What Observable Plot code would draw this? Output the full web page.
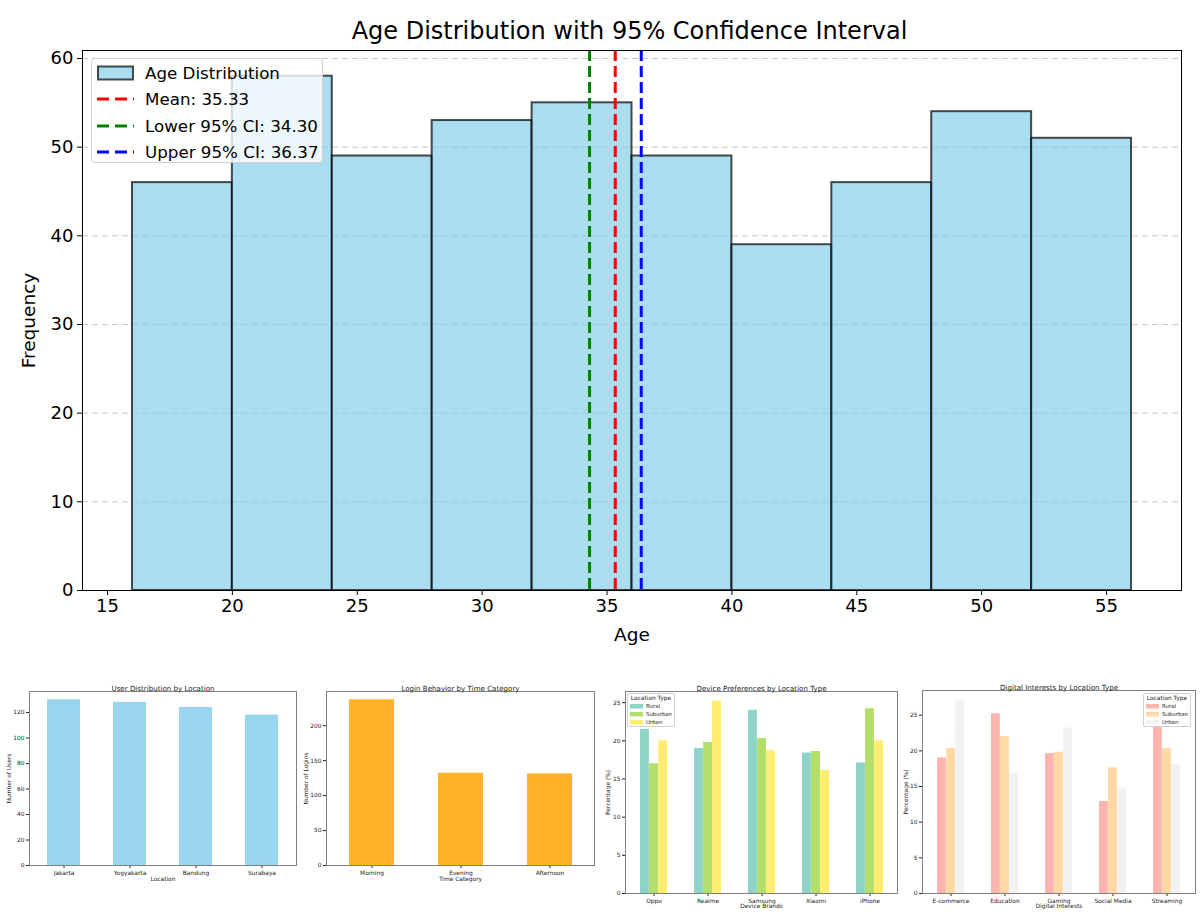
<!DOCTYPE html>
<html>
<head>
<meta charset="utf-8">
<script src="https://cdn.jsdelivr.net/npm/d3@7"></script>
<script src="https://cdn.jsdelivr.net/npm/@observablehq/plot@0.6"></script>
<style>
  body { margin: 0; background: white; font-family: "DejaVu Sans", sans-serif; }
  #root { position: relative; width: 1200px; height: 916px; overflow: hidden; }
  .legend { position: absolute; background: rgba(255,255,255,0.8); border: 1px solid #d0d0d0; border-radius: 4px; box-sizing: border-box; color: #000; }
  .lrow { position: absolute; left: 0; display: flex; align-items: center; white-space: nowrap; }
</style>
</head>
<body>
<div id="root"></div>
<script>
// ---------- DATA ----------
// Main histogram
const binStarts = [16, 20, 24, 28, 32, 36, 40, 44, 48, 52];
const binEnds   = [20, 24, 28, 32, 36, 40, 44, 48, 52, 56];
const ageFreq   = [46, 58, 49, 53, 55, 49, 39, 46, 54, 51];
const ciLabels  = ["Mean: 35.33", "Lower 95% CI: 34.30", "Upper 95% CI: 36.37"];
const ciValues  = [35.33, 34.30, 36.37];
const ciColors  = ["red", "green", "blue"];
const ageTicks  = [15, 20, 25, 30, 35, 40, 45, 50, 55];
const freqTicks = [0, 10, 20, 30, 40, 50, 60];

// Panel 1
const locations  = ["Jakarta", "Yogyakarta", "Bandung", "Surabaya"];
const userCounts = [130, 128, 124, 118];
const userTicks  = [0, 20, 40, 60, 80, 100, 120];

// Panel 2
const timeCats    = ["Morning", "Evening", "Afternoon"];
const loginCounts = [237, 132, 131];
const loginTicks  = [0, 50, 100, 150, 200];

// Panel 3
const brands = ["Oppo", "Realme", "Samsung", "Xiaomi", "iPhone"];
const locTypes = ["Rural", "Suburban", "Urban"];
const deviceRural    = [21.5, 19.0, 24.0, 18.4, 17.1];
const deviceSuburban = [17.0, 19.8, 20.3, 18.6, 24.2];
const deviceUrban    = [20.0, 25.2, 18.7, 16.1, 20.0];
const deviceColors   = ["#8dd3c7", "#b3de69", "#ffed6f"];

// Panel 4
const interests = ["E-commerce", "Education", "Gaming", "Social Media", "Streaming"];
const interestRural    = [19.0, 25.2, 19.6, 12.9, 23.3];
const interestSuburban = [20.3, 22.0, 19.8, 17.6, 20.3];
const interestUrban    = [27.1, 16.8, 23.2, 14.8, 18.1];
const interestColors   = ["#fbb4ae", "#fed9a6", "#f2f2f2"];
const pctTicks = [0, 5, 10, 15, 20, 25];

// ---------- HELPERS ----------
const root = document.getElementById("root");
function place(el, left, top) {
  el.style.position = "absolute";
  el.style.left = left + "px";
  el.style.top = top + "px";
  root.appendChild(el);
  return el;
}
const FONT = "DejaVu Sans, sans-serif";

// ---------- MAIN CHART ----------
const bins = binStarts.map((s, i) => ({x1: s, x2: binEnds[i], y: ageFreq[i]}));
const ci = ciValues.map((v, i) => ({v, color: ciColors[i], label: ciLabels[i]}));

const mainChart = Plot.plot({
  width: 1200, height: 610,
  marginLeft: 82, marginRight: 19, marginTop: 10, marginBottom: 60,
  style: {fontFamily: FONT, fontSize: "18px", color: "black", background: "transparent"},
  x: {domain: [14, 58], ticks: ageTicks, tickSize: 5, tickPadding: 4, label: null},
  y: {domain: [0, 60.9], ticks: freqTicks, tickSize: 5, tickPadding: 4, label: null},
  marks: [
    Plot.ruleY(freqTicks, {stroke: "#b0b0b0", strokeOpacity: 0.7, strokeDasharray: "6,4", strokeWidth: 1}),
    Plot.rectY(bins, {x1: "x1", x2: "x2", y: "y", fill: "#87CEEB", fillOpacity: 0.7, stroke: "black", strokeOpacity: 0.7, strokeWidth: 2}),
    Plot.ruleX(ci, {x: "v", stroke: "color", strokeWidth: 3, strokeDasharray: "11,5"}),
    Plot.frame({stroke: "black", strokeWidth: 1}),
    Plot.text(["Age"], {text: d => d, frameAnchor: "bottom", dy: 37, lineAnchor: "top", fontSize: 18.5}),
    Plot.text(["Frequency"], {text: d => d, frameAnchor: "left", textAnchor: "middle", dx: -53, rotate: -90, fontSize: 18.5})
  ]
});
place(mainChart, 0, 40);

const title = document.createElement("div");
title.textContent = "Age Distribution with 95% Confidence Interval";
title.style.cssText = "width:1099px;text-align:center;font-size:24px;line-height:28px;white-space:nowrap;font-family:" + FONT;
place(title, 80, 17);

// main legend
const leg = document.createElement("div");
leg.className = "legend";
leg.style.width = "232px"; leg.style.height = "105px";
const rowsMain = [{type: "patch", label: "Age Distribution"}].concat(ci.map(d => ({type: "line", color: d.color, label: d.label})));
rowsMain.forEach((r, i) => {
  const row = document.createElement("div");
  row.className = "lrow";
  row.style.top = (14 + i * 26.3 - 11) + "px";
  row.style.height = "22px";
  row.style.left = "5px";
  const sw = r.type === "patch"
    ? `<svg width="37" height="22"><rect x="1" y="4.5" width="35" height="13" fill="#87CEEB" fill-opacity="0.7" stroke="black" stroke-opacity="0.7" stroke-width="2"/></svg>`
    : `<svg width="37" height="22"><line x1="0" x2="37" y1="11" y2="11" stroke="${r.color}" stroke-width="3" stroke-dasharray="12,6"/></svg>`;
  row.innerHTML = sw + `<span style="margin-left:11px;font-size:16.7px;font-family:${FONT}">${r.label}</span>`;
  leg.appendChild(row);
});
place(leg, 91, 58);

// ---------- SMALL PANELS ----------
const SMALL = {fontFamily: FONT, fontSize: "5.9px", color: "#222", background: "transparent"};

function smallFrame(titleText, xLabel, yLabel, yLabelDx, xLabelDy) {
  return [
    Plot.frame({stroke: "#808080", strokeWidth: 1}),
    Plot.text([titleText], {text: d => d, frameAnchor: "top", dy: -6, fontSize: 7.1, fill: "#222"}),
    Plot.text([xLabel], {text: d => d, frameAnchor: "bottom", dy: xLabelDy, fontSize: 5.9, fill: "#222"}),
    Plot.text([yLabel], {text: d => d, frameAnchor: "left", textAnchor: "middle", dx: yLabelDx, rotate: -90, fontSize: 5.9, fill: "#222"})
  ];
}

// Panel 1
const p1 = Plot.plot({
  width: 300, height: 241, marginLeft: 29, marginRight: 4, marginTop: 16, marginBottom: 51,
  style: SMALL,
  x: {domain: locations, paddingInner: 0.5, paddingOuter: 0.25, align: 0.5, tickSize: 3, tickPadding: 2, label: null},
  y: {domain: [0, 136.5], ticks: userTicks, tickSize: 3, tickPadding: 2, label: null},
  marks: [
    Plot.barY(locations.map((l, i) => ({l, v: userCounts[i]})), {x: "l", y: "v", fill: "#87CEEB", fillOpacity: 0.85}),
    ...smallFrame("User Distribution by Location", "Location", "Number of Users", -20, 15)
  ]
});
place(p1, 0, 675);

// Panel 2
const p2 = Plot.plot({
  width: 300, height: 241, marginLeft: 26, marginRight: 6, marginTop: 16, marginBottom: 51,
  style: SMALL,
  x: {domain: timeCats, paddingInner: 0.5, paddingOuter: 0.25, align: 0.5, tickSize: 3, tickPadding: 2, label: null},
  y: {domain: [0, 248.85], ticks: loginTicks, tickSize: 3, tickPadding: 2, label: null},
  marks: [
    Plot.barY(timeCats.map((l, i) => ({l, v: loginCounts[i]})), {x: "l", y: "v", fill: "#FFA500", fillOpacity: 0.85}),
    ...smallFrame("Login Behavior by Time Category", "Time Category", "Number of Logins", -20, 15)
  ]
});
place(p2, 300, 675);

// grouped bars helper
function groupedBars(cats, series, colors, plotWidth) {
  const band = plotWidth / cats.length * 0.5;
  const w = band / series.length;
  return series.map((vals, k) =>
    Plot.barY(cats.map((c, i) => ({c, v: vals[i]})), {
      x: "c", y: "v", fill: colors[k],
      insetLeft: k * w, insetRight: (series.length - 1 - k) * w
    })
  );
}

// Panel 3
const p3 = Plot.plot({
  width: 300, height: 241, marginLeft: 25, marginRight: 3, marginTop: 16, marginBottom: 23,
  style: SMALL,
  x: {domain: brands, paddingInner: 0.5, paddingOuter: 0.25, align: 0.5, tickSize: 3, tickPadding: 2, label: null},
  y: {domain: [0, 26.46], ticks: pctTicks, tickSize: 3, tickPadding: 2, label: null},
  marks: [
    ...groupedBars(brands, [deviceRural, deviceSuburban, deviceUrban], deviceColors, 272),
    ...smallFrame("Device Preferences by Location Type", "Device Brands", "Percentage (%)", -17, 14)
  ]
});
place(p3, 600, 675);

// Panel 4
const p4 = Plot.plot({
  width: 300, height: 241, marginLeft: 22, marginRight: 5, marginTop: 15, marginBottom: 23,
  style: SMALL,
  x: {domain: interests, paddingInner: 0.5, paddingOuter: 0.25, align: 0.5, tickSize: 3, tickPadding: 2, label: null},
  y: {domain: [0, 28.46], ticks: pctTicks, tickSize: 3, tickPadding: 2, label: null},
  marks: [
    ...groupedBars(interests, [interestRural, interestSuburban, interestUrban], interestColors, 273),
    ...smallFrame("Digital Interests by Location Type", "Digital Interests", "Percentage (%)", -16, 14)
  ]
});
place(p4, 900, 675);

// small legends
function smallLegend(left, top, colors) {
  const el = document.createElement("div");
  el.className = "legend";
  el.style.width = "48px"; el.style.height = "34px"; el.style.borderRadius = "2px";
  const t = document.createElement("div");
  t.textContent = "Location Type";
  t.style.cssText = `position:absolute;left:0;width:100%;text-align:center;top:1px;font-size:5.9px;line-height:7px;font-family:${FONT};color:#222`;
  el.appendChild(t);
  locTypes.forEach((lt, i) => {
    const row = document.createElement("div");
    row.className = "lrow";
    row.style.left = "2px";
    row.style.top = (9 + i * 8.2) + "px";
    row.style.height = "6px";
    row.innerHTML = `<svg width="13" height="6"><rect x="0" y="1" width="13" height="4.5" fill="${colors[i]}"/></svg><span style="margin-left:3px;font-size:5.4px;font-family:${FONT};color:#222">${lt}</span>`;
    el.appendChild(row);
  });
  place(el, left, top);
}
smallLegend(627, 693, deviceColors);
smallLegend(1143, 693, interestColors);
</script>
</body>
</html>
